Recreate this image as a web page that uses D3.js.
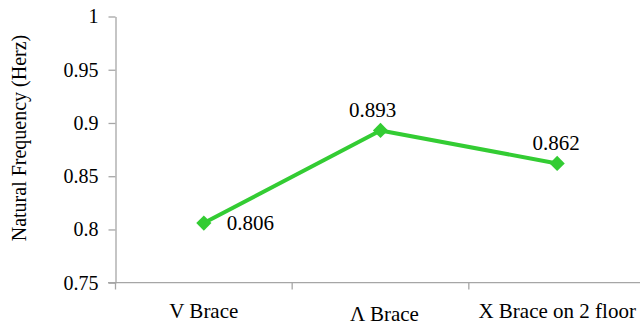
<!DOCTYPE html>
<html>
<head>
<meta charset="utf-8">
<script src="https://cdn.jsdelivr.net/npm/d3@7"></script>
</head>
<body style="margin:0">
<svg id="chart" width="640" height="325"></svg>
<script>
const categories = ["V Brace", "\u039B Brace", "X Brace on 2 floor"];
const frequencies = [0.806, 0.893, 0.862];
const yTicks = [0.75, 0.8, 0.85, 0.9, 0.95, 1];
const yTickLabels = ["0.75", "0.8", "0.85", "0.9", "0.95", "1"];
const yTitle = "Natural Frequency (Herz)";

const FONT = "'Tinos'";
const svg = d3.select("#chart");
const axisColor = "#a6a6a6";
const lineColor = "#33cc33";

const x = d3.scaleBand().domain(categories).range([115.5, 645.5]).paddingInner(0).paddingOuter(0);
const y = d3.scaleLinear().domain([0.75, 1]).range([282.7, 16.5]);

// Y axis
const yAxis = d3.axisLeft(y).tickValues(yTicks)
  .tickFormat((d, i) => yTickLabels[i]).tickSizeInner(7).tickSizeOuter(0).tickPadding(10);
const gy = svg.append("g").attr("transform", "translate(115.5,0)").call(yAxis);
gy.select(".domain").attr("stroke", axisColor).attr("stroke-width", 1.3);
gy.selectAll(".tick line").attr("stroke", axisColor).attr("stroke-width", 1.3);
gy.selectAll(".tick text").style("font-family", FONT).style("font-size", "20px").attr("fill", "#000");

// X axis
const xAxis = d3.axisBottom(x).tickSizeInner(0).tickSizeOuter(0).tickPadding(20);
const gx = svg.append("g").attr("transform", "translate(0,282.7)").call(xAxis);
gx.select(".domain").attr("stroke", axisColor).attr("stroke-width", 1.3)
  .attr("d", "M108,0H640");
gx.selectAll(".tick text").style("font-family", FONT).style("font-size", "21px").attr("fill", "#000")
  .attr("dy", (d, i) => i === 1 ? "0.86em" : "0.71em")
  .attr("dx", (d, i) => i === 1 ? 4 : 0);
// category boundary ticks
const bounds = categories.map(c => x(c));
svg.append("g").selectAll("line").data(bounds).join("line")
  .attr("x1", d => d).attr("x2", d => d)
  .attr("y1", 282.7).attr("y2", 289.5)
  .attr("stroke", axisColor).attr("stroke-width", 1.3);

// Y title
svg.append("text")
  .attr("transform", "translate(26,138) rotate(-90)")
  .attr("text-anchor", "middle")
  .style("font-family", FONT).style("font-size", "20px")
  .text(yTitle);

// Line
const cx = c => x(c) + x.bandwidth() / 2;
const line = d3.line().x((d, i) => cx(categories[i])).y(d => y(d));
svg.append("path").datum(frequencies)
  .attr("d", line).attr("fill", "none")
  .attr("stroke", lineColor).attr("stroke-width", 4).attr("stroke-linejoin", "round");

// Markers
svg.append("g").selectAll("path").data(frequencies).join("path")
  .attr("d", d3.symbol().type(d3.symbolSquare).size(115))
  .attr("transform", (d, i) => `translate(${cx(categories[i])},${y(d)}) rotate(45)`)
  .attr("fill", lineColor);

// Data labels
const placement = ["right", "above", "above"];
svg.append("g").selectAll("text").data(frequencies).join("text")
  .style("font-family", FONT).style("font-size", "21px")
  .attr("text-anchor", (d, i) => placement[i] === "right" ? "start" : "middle")
  .attr("x", (d, i) => cx(categories[i]) + (placement[i] === "right" ? 23 : (i === 1 ? -8 : -1)))
  .attr("y", (d, i) => y(d) + (placement[i] === "right" ? 6.5 : -13))
  .text(d => d3.format(".3f")(d));
</script>
</body>
</html>
